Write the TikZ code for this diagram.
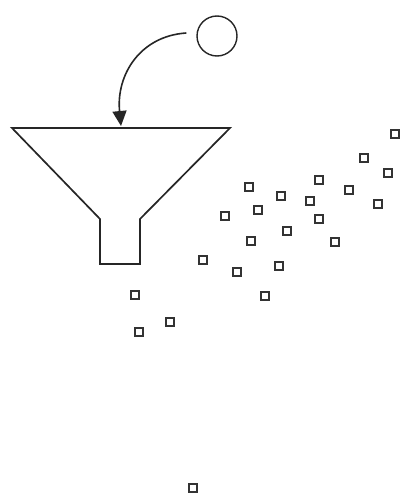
\documentclass[tikz,border=0pt]{standalone}
\usepackage{tikz}
\usetikzlibrary{arrows.meta,calc}
\tikzset{bead/.style={draw=black!80,line width=1.1pt,minimum size=8pt,inner sep=0pt},
  funnelline/.style={line width=1.7pt,line join=miter,black!85}}
\begin{document}
\begin{tikzpicture}[x=1pt,y=-1pt]
\useasboundingbox (0,0) rectangle (401,495);
% ball and the arrow into the funnel
\node[circle,draw=black!85,line width=1.4pt,minimum size=40pt,inner sep=0pt] (ball) at (217,36) {};
\coordinate (mouth) at (121,126);
\draw[line width=1.6pt,black!85,-{Triangle[length=15pt,width=14pt]}] ($(ball.west)+(-10,-3)$) .. controls (140,36) and (116,75) .. (mouth);
% funnel
\draw[funnelline] (12,128) -- (230,128) -- (140,219) -- (140,264) -- (100,264) -- (100,219) -- cycle;
% beads coming out
\foreach \p [count=\i] in {(395,134),(364,158),(388,173),(319,180),(349,190),(378,204),(249,187),(281,196),(310,201),(258,210),(225,216),(319,219),(287,231),(251,241),(335,242),(203,260),(237,272),(279,266),(265,296),(135,295),(170,322),(139,332),(193,488)}
  \node[bead] (b\i) at \p {};
\end{tikzpicture}
\end{document}
